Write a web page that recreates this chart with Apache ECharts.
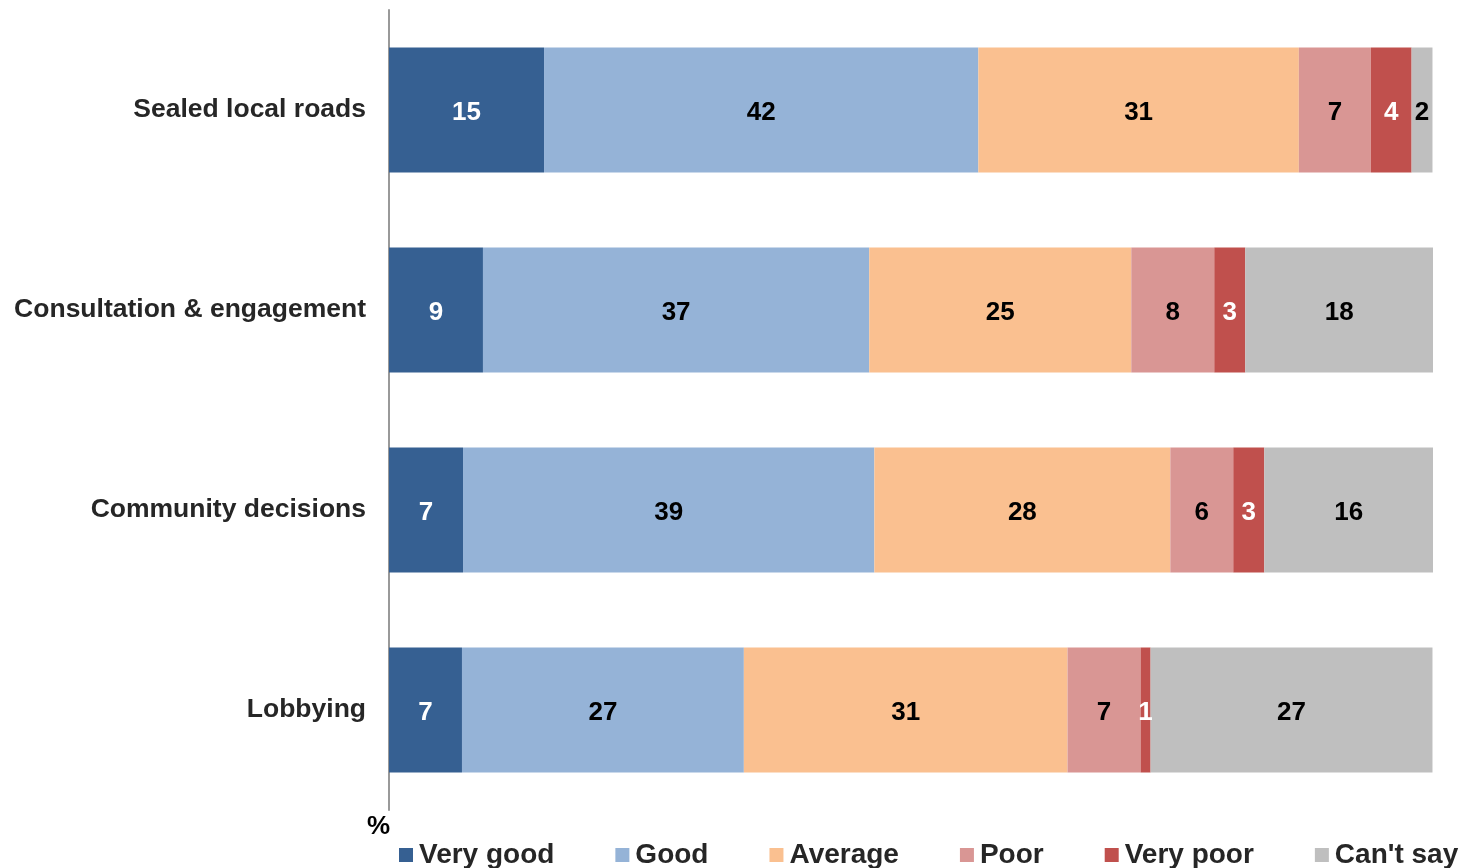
<!DOCTYPE html>
<html>
<head>
<meta charset="utf-8">
<script src="https://cdn.jsdelivr.net/npm/echarts@6/dist/echarts.min.js"></script>
<style>
html,body{margin:0;padding:0;background:#fff;}
#chart{width:1464px;height:868px;}
</style>
</head>
<body>
<div id="chart"></div>
<script>
var categories = ['Sealed local roads', 'Consultation & engagement', 'Community decisions', 'Lobbying'];
var seriesNames = ['Very good', 'Good', 'Average', 'Poor', 'Very poor', "Can't say"];
var veryGood = [14.85, 9.0, 7.09, 6.99];
var good = [41.6, 37.0, 39.4, 27.0];
var average = [30.7, 25.1, 28.35, 31.0];
var poor = [6.9, 7.95, 6.03, 7.0];
var veryPoor = [3.9, 2.97, 2.97, 0.96];
var cantSay = [2.0, 18.0, 16.2, 27.0];
var colors = ['#366092', '#95B3D7', '#FAC090', '#D99694', '#C0504D', '#BFBFBF'];
var labelColors = ['#ffffff', '#000000', '#000000', '#000000', '#ffffff', '#000000'];
var allValues = [veryGood, good, average, poor, veryPoor, cantSay];

var chart = echarts.init(document.getElementById('chart'));
var series = seriesNames.map(function (name, i) {
  return {
    name: name,
    type: 'bar',
    stack: 'total',
    barWidth: 125,
    data: allValues[i],
    itemStyle: { color: colors[i] },
    label: {
      show: true,
      position: 'inside',
      offset: [0, 3],
      color: labelColors[i],
      fontFamily: 'Liberation Sans, Arial, sans-serif',
      fontWeight: 'bold',
      fontSize: 26,
      formatter: function (p) { return Math.round(p.value); }
    },
    emphasis: { disabled: true }
  };
});

chart.setOption({
  animation: false,
  grid: { left: 389, right: 31, top: 10, bottom: 58, containLabel: false },
  xAxis: {
    type: 'value', min: 0, max: 100,
    show: false
  },
  yAxis: {
    type: 'category',
    data: categories,
    inverse: true,
    axisLine: { show: true, lineStyle: { color: '#999999', width: 2 } },
    axisTick: { show: false },
    axisLabel: {
      margin: 23,
      color: '#262626',
      fontFamily: 'Liberation Sans, Arial, sans-serif',
      fontWeight: 'bold',
      fontSize: 26.5,
      lineHeight: 26,
      padding: [6, 0, 0, 0]
    }
  },
  legend: {
    left: 394,
    top: 836,
    itemWidth: 14,
    itemHeight: 14,
    itemGap: 61,
    icon: 'rect',
    textStyle: {
      color: '#262626',
      fontFamily: 'Liberation Sans, Arial, sans-serif',
      fontWeight: 'bold',
      fontSize: 28,
      padding: [0, 0, 0, 1]
    },
    data: seriesNames
  },
  graphic: [{
    type: 'text',
    left: 367,
    top: 814,
    style: {
      text: '%',
      fill: '#000000',
      fontFamily: 'Liberation Sans, Arial, sans-serif',
      fontWeight: 'bold',
      fontSize: 26
    }
  }],
  series: series
});
</script>
</body>
</html>
